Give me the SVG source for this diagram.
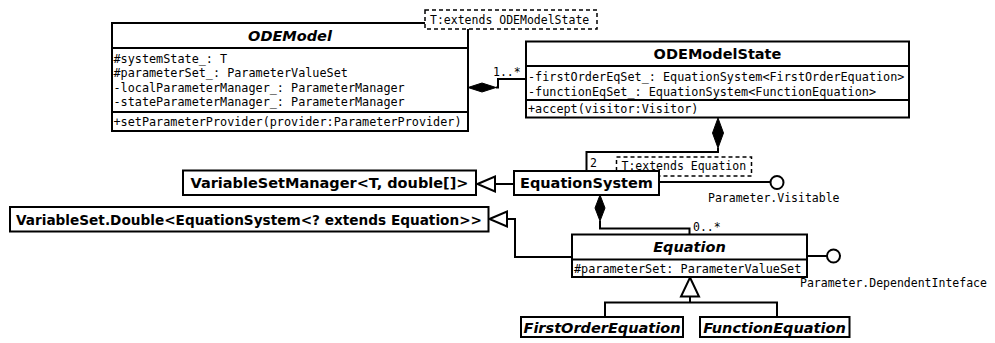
<svg xmlns="http://www.w3.org/2000/svg" width="995" height="343" viewBox="0 0 995 343">
<style>
.box{fill:#fff;stroke:#000;stroke-width:2}
.sep{stroke:#000;stroke-width:2}
.tpl{fill:#fff;stroke:#000;stroke-width:1.5;stroke-dasharray:4 3}
.ln{fill:none;stroke:#000;stroke-width:2}
.dia{fill:#000;stroke:#000;stroke-width:1}
.tri{fill:#fff;stroke:#000;stroke-width:2}
.lol{fill:#fff;stroke:#000;stroke-width:2}
.hd{font-family:"DejaVu Sans",sans-serif;font-weight:bold;font-size:14.5px;text-anchor:middle}
.it{font-style:italic}
.mono{font-family:"DejaVu Sans Mono",monospace;font-size:11.8px}
.lbl{font-family:"DejaVu Sans Mono",monospace;font-size:11.5px}
</style>
<rect width="995" height="343" fill="#fff"/>
<g id="connectors">
<polygon class="dia" points="468,87.5 482,83 496,87.5 482,92"/>
<path class="ln" d="M496,87.5 H498 V79 H526"/>
<text class="lbl" x="493" y="76">1..*</text>
<polygon class="dia" points="718,118 723.5,133 718,148 712.5,133"/>
<path class="ln" d="M718,148 V152 H586.5 V171"/>
<text class="lbl" x="590" y="167">2</text>
<polygon class="dia" points="600,195 605,208 600,221 595,208"/>
<path class="ln" d="M600,221 V228.5 H689.5 V234"/>
<text class="lbl" x="693" y="231">0..*</text>
<path class="ln" d="M514,184 H495"/>
<polygon class="tri" points="477.5,184 495,176.5 495,191.5"/>
<path class="ln" d="M572,257 H515 V219 H507"/>
<polygon class="tri" points="489.5,219 507,211.5 507,226.5"/>
<path class="ln" d="M659,182 H770.5"/>
<circle class="lol" cx="777" cy="182.5" r="6.5"/>
<text class="lbl" x="708" y="202">Parameter.Visitable</text>
<path class="ln" d="M807,256 H827"/>
<circle class="lol" cx="833.5" cy="256" r="6.5"/>
<text class="lbl" x="800" y="287">Parameter.DependentInteface</text>
<polygon class="tri" points="690,277.5 699,296.5 681,296.5"/>
<path class="ln" d="M690,296.5 V302.5 M605,317 V302.5 H777 V317"/>
</g>
<g id="ODEModel">
<rect class="box" x="112" y="23" width="356" height="108"/>
<line class="sep" x1="112" y1="48" x2="468" y2="48"/>
<line class="sep" x1="112" y1="112" x2="468" y2="112"/>
<text class="hd it" x="290" y="40.5">ODEModel</text>
<text class="mono" x="113.5" y="62.5">#systemState_: T</text>
<text class="mono" x="113.5" y="76.5">#parameterSet_: ParameterValueSet</text>
<text class="mono" x="113.5" y="91.5">-localParameterManager_: ParameterManager</text>
<text class="mono" x="113.5" y="106">-stateParameterManager_: ParameterManager</text>
<text class="mono" x="113.5" y="126">+setParameterProvider(provider:ParameterProvider)</text>
</g>
<g id="ODEModelTemplate">
<rect class="tpl" x="425" y="10" width="172" height="19"/>
<text class="lbl" x="430" y="23.5">T:extends ODEModelState</text>
</g>
<g id="ODEModelState">
<rect class="box" x="526" y="41.5" width="383" height="76"/>
<line class="sep" x1="526" y1="66" x2="909" y2="66"/>
<line class="sep" x1="526" y1="100" x2="909" y2="100"/>
<text class="hd" x="717.5" y="59">ODEModelState</text>
<text class="mono" x="528" y="81">-firstOrderEqSet_: EquationSystem&lt;FirstOrderEquation&gt;</text>
<text class="mono" x="528" y="96">-functionEqSet_: EquationSystem&lt;FunctionEquation&gt;</text>
<text class="mono" x="528" y="113">+accept(visitor:Visitor)</text>
</g>
<g id="EquationSystemTemplate">
<rect class="tpl" x="616.5" y="157" width="135" height="19"/>
<text class="lbl" x="621.5" y="170">T:extends Equation</text>
</g>
<g id="EquationSystem">
<rect class="box" x="514" y="171" width="145" height="24"/>
<text class="hd" x="586.5" y="188">EquationSystem</text>
</g>
<g id="VariableSetManager">
<rect class="box" x="183" y="170.5" width="293" height="24.5"/>
<text class="hd" x="329.5" y="188">VariableSetManager&lt;T, double[]&gt;</text>
</g>
<g id="VariableSetDouble">
<rect class="box" x="10" y="207" width="478.5" height="24.5"/>
<text class="hd" x="249" y="224.5" textLength="466" lengthAdjust="spacingAndGlyphs">VariableSet.Double&lt;EquationSystem&lt;? extends Equation&gt;&gt;</text>
</g>
<g id="Equation">
<rect class="box" x="572" y="234.5" width="235" height="42.5"/>
<line class="sep" x1="572" y1="259.5" x2="807" y2="259.5"/>
<text class="hd it" x="689.5" y="252">Equation</text>
<text class="mono" x="574" y="272.5">#parameterSet: ParameterValueSet</text>
</g>
<g id="FirstOrderEquation">
<rect class="box" x="521" y="317" width="162" height="20"/>
<text class="hd it" x="602" y="332.5">FirstOrderEquation</text>
</g>
<g id="FunctionEquation">
<rect class="box" x="700" y="317" width="149.5" height="20"/>
<text class="hd it" x="774.5" y="332.5">FunctionEquation</text>
</g>
</svg>
